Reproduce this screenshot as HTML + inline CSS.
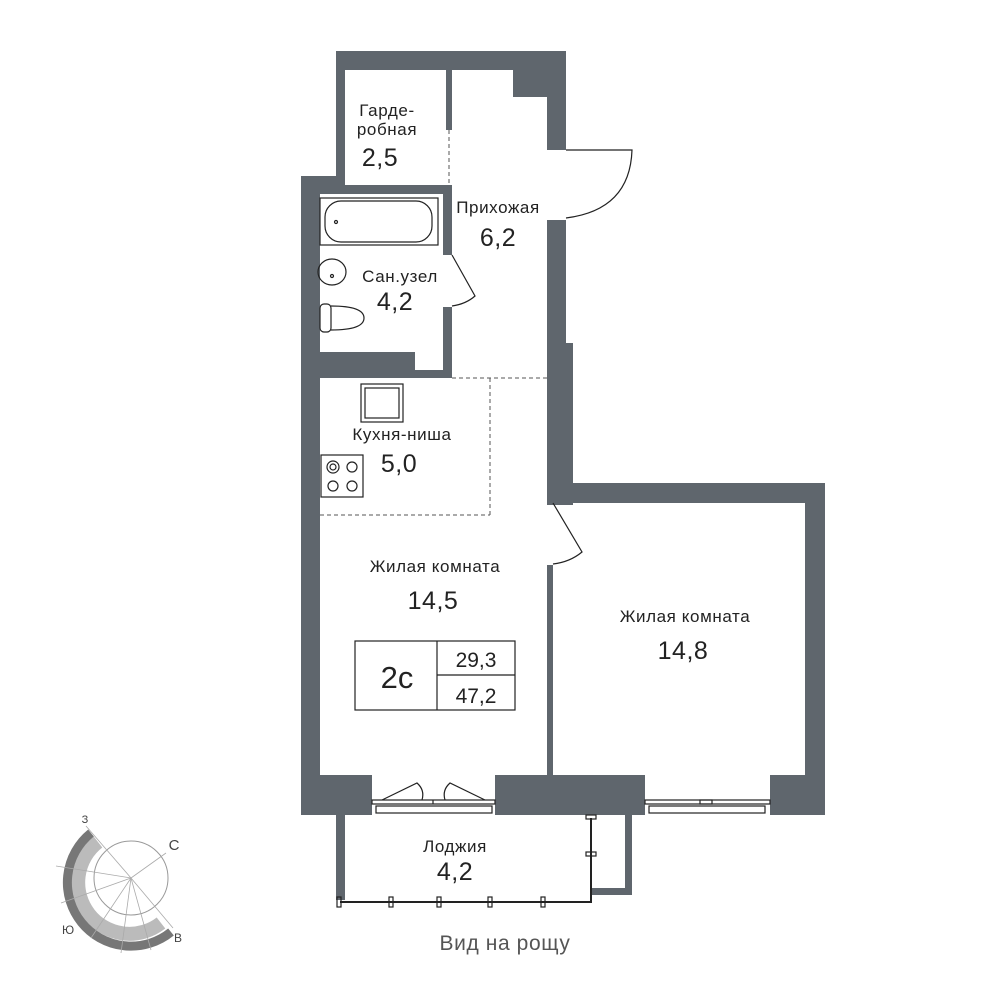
<!DOCTYPE html>
<html><head><meta charset="utf-8"><style>
html,body{margin:0;padding:0;background:#fff;}
svg{display:block}
text{font-family:"Liberation Sans","DejaVu Sans",sans-serif;fill:#222;}
.l{font-size:17px;letter-spacing:0.6px}
.n{font-size:25px;letter-spacing:0.5px}
</style></head><body>
<svg width="1000" height="1000" viewBox="0 0 1000 1000" xmlns="http://www.w3.org/2000/svg">
<rect width="1000" height="1000" fill="#fff"/>
<g fill="#5f666d">
<rect x="336" y="51" width="230" height="19"/>
<rect x="336" y="51" width="9" height="134"/>
<rect x="446" y="70" width="6" height="60"/>
<rect x="513" y="70" width="53" height="27"/>
<rect x="547" y="70" width="19" height="80"/>
<rect x="547" y="220" width="19" height="285"/>
<rect x="547" y="343" width="26" height="162"/>
<rect x="301" y="176" width="44" height="9"/>
<rect x="301" y="176" width="19" height="639"/>
<rect x="320" y="185" width="132" height="9"/>
<rect x="443" y="185" width="9" height="70"/>
<rect x="443" y="307" width="9" height="71"/>
<rect x="320" y="352" width="95" height="26"/>
<rect x="320" y="370" width="132" height="8"/>
<rect x="547" y="483" width="278" height="20"/>
<rect x="805" y="483" width="20" height="332"/>
<rect x="547" y="565" width="6" height="212"/>
<rect x="301" y="775" width="71" height="40"/>
<rect x="495" y="775" width="150" height="40"/>
<rect x="770" y="775" width="55" height="40"/>
<rect x="336" y="815" width="9" height="85"/>
<rect x="625" y="815" width="7" height="80"/>
<rect x="592" y="888" width="40" height="7"/>
</g>
<g fill="none" stroke="#222" stroke-width="1.2">
<rect x="372" y="800" width="123" height="4"/>
<rect x="376" y="806" width="116" height="7"/>
<path d="M382 800 L417 783 Q425 790 422 800"/>
<path d="M485 800 L450 783 Q442 790 445 800"/>
<line x1="433" y1="800" x2="433" y2="804"/>
<rect x="645" y="800" width="125" height="4"/>
<rect x="649" y="806" width="116" height="7"/>
<rect x="700" y="800" width="12" height="4"/>
<path d="M566 150 L632 150 Q630 210 566 218"/>
<path d="M452 255 L475 296 Q466 304 452 306"/>
<path d="M553 503 L582 552 Q570 562 553 564"/>
<line x1="340" y1="902" x2="592" y2="902" stroke-width="2"/>
<line x1="591" y1="818" x2="591" y2="902" stroke-width="2"/>
<rect x="337" y="897" width="4" height="10"/><rect x="389" y="897" width="4" height="10"/><rect x="437" y="897" width="4" height="10"/><rect x="488" y="897" width="4" height="10"/><rect x="541" y="897" width="4" height="10"/>
<rect x="586" y="815" width="10" height="4"/><rect x="586" y="852" width="10" height="4"/>
<rect x="355" y="641" width="160" height="69"/>
<line x1="437" y1="641" x2="437" y2="710"/>
<line x1="437" y1="675" x2="515" y2="675"/>
<rect x="320" y="198" width="118" height="47"/>
<rect x="325" y="201" width="107" height="41" rx="16"/>
<circle cx="336" cy="222" r="1.5"/>
<ellipse cx="332" cy="272" rx="14" ry="13"/>
<circle cx="332" cy="276" r="1.5"/>
<rect x="320" y="304" width="11" height="28" rx="4"/>
<path d="M331 306 Q364 306 364 318 Q364 330 331 330"/>
<rect x="361" y="384" width="42" height="38"/>
<rect x="365" y="388" width="34" height="30"/>
<rect x="321" y="455" width="42" height="42"/>
<circle cx="333" cy="467" r="6"/><circle cx="333" cy="467" r="3"/>
<circle cx="352" cy="467" r="5"/><circle cx="333" cy="486" r="5"/><circle cx="352" cy="486" r="5"/>
</g>
<g stroke="#555" stroke-width="1" stroke-dasharray="4 3" fill="none">
<line x1="449" y1="130" x2="449" y2="185"/>
<line x1="452" y1="378" x2="547" y2="378"/>
<line x1="490" y1="378" x2="490" y2="515"/>
<line x1="320" y1="515" x2="490" y2="515"/>
</g>
<g text-anchor="middle">
<text x="387" y="116" class="l">Гарде-</text>
<text x="387" y="135" class="l">робная</text>
<text x="380" y="166" class="n">2,5</text>
<text x="498" y="213" class="l">Прихожая</text>
<text x="498" y="246" class="n">6,2</text>
<text x="400" y="282" class="l">Сан.узел</text>
<text x="395" y="310" class="n">4,2</text>
<text x="402" y="440" class="l">Кухня-ниша</text>
<text x="399" y="472" class="n">5,0</text>
<text x="435" y="572" class="l">Жилая комната</text>
<text x="433" y="609" class="n">14,5</text>
<text x="685" y="622" class="l">Жилая комната</text>
<text x="683" y="659" class="n">14,8</text>
<text x="397" y="688" font-size="31">2с</text>
<text x="476" y="667" font-size="21">29,3</text>
<text x="476" y="703" font-size="21">47,2</text>
<text x="455" y="852" class="l">Лоджия</text>
<text x="455" y="880" class="n">4,2</text>
<text x="505" y="950" font-size="21" style="fill:#555;letter-spacing:0.6px">Вид на рощу</text>
</g>
<g transform="translate(131,878)">
<path d="M-33,-36 A49,49 0 0 0 30,45" fill="none" stroke="#bbb" stroke-width="14"/>
<path d="M-40,-45 A60,60 0 0 0 40,54" fill="none" stroke="#777" stroke-width="9"/>
<circle r="37" fill="none" stroke="#999" stroke-width="1"/>
<g stroke="#aaa" stroke-width="0.8">
<line x1="-45" y1="-52" x2="0" y2="0"/><line x1="0" y1="0" x2="35" y2="-25"/>
<line x1="0" y1="0" x2="42" y2="50"/><line x1="-75" y1="-12" x2="0" y2="0"/>
<line x1="-70" y1="25" x2="0" y2="0"/><line x1="-40" y1="60" x2="0" y2="0"/>
<line x1="-10" y1="75" x2="0" y2="0"/><line x1="20" y1="72" x2="0" y2="0"/>
</g>
<text x="-46" y="-55" font-size="11" text-anchor="middle" style="fill:#444">З</text>
<text x="43" y="-28" font-size="15" text-anchor="middle" style="fill:#444">С</text>
<text x="47" y="64" font-size="12" text-anchor="middle" style="fill:#444">В</text>
<text x="-63" y="56" font-size="12" text-anchor="middle" style="fill:#444">Ю</text>
</g>
</svg>
</body></html>
